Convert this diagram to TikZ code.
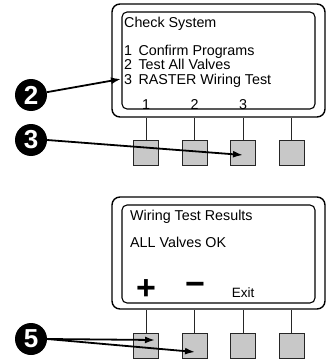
\documentclass[tikz,border=0pt]{standalone}
\usepackage{fontspec}
\setmainfont{Liberation Sans}
\usetikzlibrary{arrows.meta,positioning}
\definecolor{KeyGray}{RGB}{200,200,200}
\tikzset{
  panel/.style={draw=black,line width=1.4pt,rounded corners=8pt,inner sep=0pt},
  screen/.style={draw=black,line width=1.1pt,rounded corners=5pt,inner sep=0pt},
  keybox/.style={draw=black!85,line width=0.9pt,fill=KeyGray,
    minimum width=25pt,minimum height=25pt,inner sep=0pt},
  stem/.style={draw=black!85,line width=0.9pt},
  lcdtext/.style={anchor=base west,inner sep=0pt,
    font=\fontsize{14.3}{16}\selectfont},
  softkey/.style={anchor=base,inner sep=0pt,font=\fontsize{14.3}{16}\selectfont},
  badge/.style={circle,fill=black,text=white,minimum size=32pt,inner sep=0pt,
    font=\fontsize{26}{26}\selectfont\bfseries},
  callout/.style={-{Latex[length=10pt,width=7pt]},line width=1.8pt},
}

\begin{document}
\begin{tikzpicture}[x=1pt,y=-1pt]
  \useasboundingbox (0,0) rectangle (327,361);
  % top controller: Check System
  \node[panel,minimum width=213pt,minimum height=113pt] (top) at (218.5,60.5) {};
  \node[screen,minimum width=193pt,minimum height=97pt] (topscreen) at (218.5,60.5) {};
  \node[lcdtext] (title) at (124,28) {Check System};
  \node[lcdtext] (opt1) at (124,55.5) {1\, Confirm Programs};
  \node[lcdtext] (opt2) at (124,69.5) {2\, Test All Valves};
  \node[lcdtext] (opt3) at (124,84) {3\, RASTER Wiring Test};
  \node[softkey] (lbl1) at (146,109) {1};
  \node[softkey] (lbl2) at (194.5,109) {2};
  \node[softkey] (lbl3) at (243,109) {3};
  \node[keybox] (k1) at (146,152.5) {};
  \node[keybox] (k2) at (194.5,152.5) {};
  \node[keybox] (k3) at (243,152.5) {};
  \node[keybox] (k4) at (291.5,152.5) {};
  \draw[stem] (k1.north) -- (k1.north |- top.south);
  \draw[stem] (k2.north) -- (k2.north |- top.south);
  \draw[stem] (k3.north) -- (k3.north |- top.south);
  \draw[stem] (k4.north) -- (k4.north |- top.south);

  % bottom controller: results
  \node[panel,minimum width=213pt,minimum height=112pt] (bot) at (218.5,253) {};
  \node[screen,minimum width=193pt,minimum height=98pt] (botscreen) at (218.5,254) {};
  \node[lcdtext] (result) at (130,220) {Wiring Test Results};
  \node[lcdtext] (status) at (130,247) {ALL Valves OK};
  \node[inner sep=0pt,font=\fontsize{34}{34}\selectfont\bfseries] (plus) at (146,290) {+};
  \node[inner sep=0pt,font=\fontsize{34}{34}\selectfont\bfseries] (minus) at (195,289) {−};
  \node[softkey,font=\fontsize{13.5}{15}\selectfont] (exit) at (243,297) {Exit};
  \node[keybox] (m1) at (146,345.5) {};
  \node[keybox] (m2) at (194.5,345.5) {};
  \node[keybox] (m3) at (243,345.5) {};
  \node[keybox] (m4) at (291.5,345.5) {};
  \draw[stem] (m1.north) -- (m1.north |- bot.south);
  \draw[stem] (m2.north) -- (m2.north |- bot.south);
  \draw[stem] (m3.north) -- (m3.north |- bot.south);
  \draw[stem] (m4.north) -- (m4.north |- bot.south);

  % step badges
  \node[badge] (b2) at (31,95) {2};
  \node[badge] (b3) at (31,140) {3};
  \node[badge] (b5) at (31,339) {5};
  \coordinate (tip2) at (121,79);
  \coordinate (tip3) at (243,155);
  \coordinate (tip5a) at (155,340);
  \coordinate (tip5b) at (195,352);
  \draw[callout] (b2) -- (tip2);
  \draw[callout] (b3.east) -- (tip3);
  \draw[callout] (b5.east) -- (tip5a);
  \draw[callout] (b5.east) -- (tip5b);
\end{tikzpicture}
\end{document}
